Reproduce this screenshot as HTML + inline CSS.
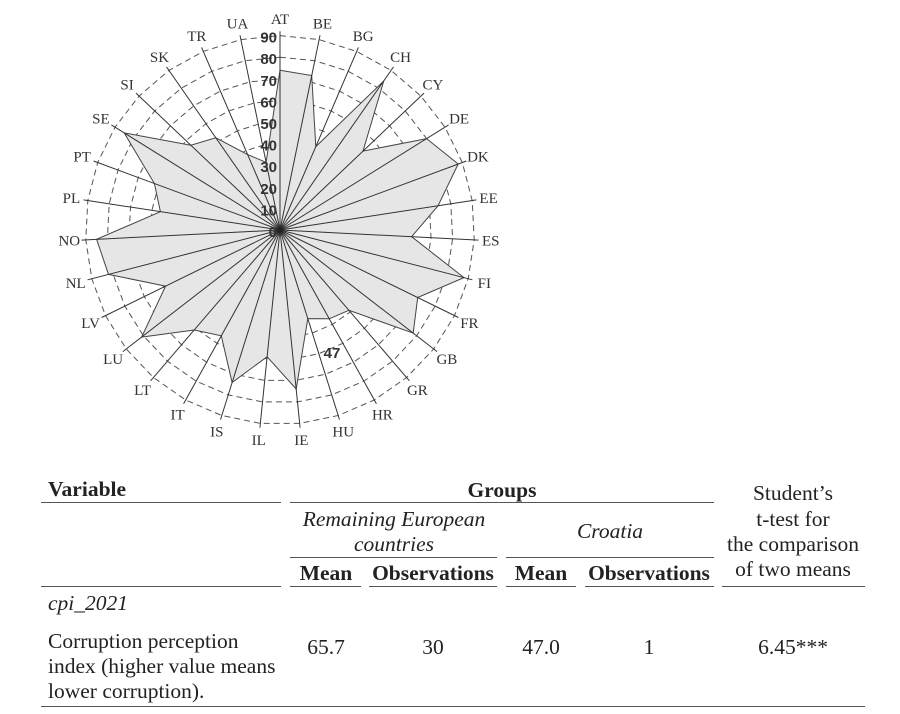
<!DOCTYPE html>
<html><head><meta charset="utf-8"><style>
body{margin:0;background:#fff;width:900px;height:714px;overflow:hidden;position:relative;font-family:"Liberation Serif",serif;color:#222}
.t{position:absolute;font-size:21.5px;white-space:nowrap;line-height:1}
.c{transform:translateX(-50%)}
.b{font-weight:bold}
.i{font-style:italic}
.l{position:absolute;height:1px;background:#555}
</style></head><body>
<svg id="s" width="900" height="470" style="position:absolute;left:0;top:0"></svg>
<script>
var names="AT BE BG CH CY DE DK EE ES FI FR GB GR HR HU IE IL IS IT LT LU LV NL NO PL PT SE SI SK TR UA".split(" ");
var vals=[74,73,42,84,53,80,88,74,61,88,71,78,49,47,43,74,59,74,56,61,81,59,82,85,56,62,85,57,52,38,32];
var cx=280,cy=230,k=2.16,n=31,h='';
function P(i,r){var a=i*2*Math.PI/n;return [cx+r*Math.sin(a),cy-r*Math.cos(a)];}
for(var g=10;g<=90;g+=10){var p=[];for(var i=0;i<n;i++){var q=P(i,g*k);p.push(q[0].toFixed(1)+','+q[1].toFixed(1));}
h+='<polygon points="'+p.join(' ')+'" fill="none" stroke="#555" stroke-width="1" stroke-dasharray="6,4"/>';}
var p=[];for(var i=0;i<n;i++){var q=P(i,vals[i]*k);p.push(q[0].toFixed(1)+','+q[1].toFixed(1));}
h+='<polygon points="'+p.join(' ')+'" fill="#e6e6e6" stroke="#444" stroke-width="1"/>';
for(var i=0;i<n;i++){var q=P(i,92*k);h+='<line x1="'+cx+'" y1="'+cy+'" x2="'+q[0].toFixed(1)+'" y2="'+q[1].toFixed(1)+'" stroke="#333" stroke-width="1"/>';
var t=P(i,211);h+='<text x="'+t[0].toFixed(1)+'" y="'+(t[1]+5).toFixed(1)+'" text-anchor="middle" font-family="Liberation Serif,serif" font-size="15" fill="#333">'+names[i]+'</text>';}
for(var g=0;g<=90;g+=10){h+='<text x="277" y="'+(cy-g*k+7).toFixed(1)+'" text-anchor="end" font-family="Liberation Sans,sans-serif" font-weight="bold" font-size="15" fill="#333">'+g+'</text>';}
h+='<text x="332" y="358" text-anchor="middle" font-family="Liberation Sans,sans-serif" font-weight="bold" font-size="15" fill="#333">47</text>';
h+='<circle cx="'+cx+'" cy="'+cy+'" r="3" fill="#222"/>';
document.getElementById('s').innerHTML=h;
</script>
<div class="t b" style="left:48px;top:479px">Variable</div>
<div class="t b c" style="left:502px;top:480px">Groups</div>
<div class="t c" style="left:793px;top:483px">Student’s</div>
<div class="t c" style="left:793px;top:509px">t-test for</div>
<div class="t c" style="left:793px;top:534px">the comparison</div>
<div class="t c" style="left:793px;top:559px">of two means</div>
<div class="t i c" style="left:394px;top:509px">Remaining European</div>
<div class="t i c" style="left:394px;top:534px">countries</div>
<div class="t i c" style="left:610px;top:521px">Croatia</div>
<div class="t b c" style="left:326px;top:563px">Mean</div>
<div class="t b c" style="left:433px;top:563px">Observations</div>
<div class="t b c" style="left:541px;top:563px">Mean</div>
<div class="t b c" style="left:649px;top:563px">Observations</div>
<div class="t i" style="left:48px;top:593px">cpi_2021</div>
<div class="t" style="left:48px;top:631px">Corruption perception</div>
<div class="t" style="left:48px;top:656px">index (higher value means</div>
<div class="t" style="left:48px;top:681px">lower corruption).</div>
<div class="t c" style="left:326px;top:637px">65.7</div>
<div class="t c" style="left:433px;top:637px">30</div>
<div class="t c" style="left:541px;top:637px">47.0</div>
<div class="t c" style="left:649px;top:637px">1</div>
<div class="t c" style="left:793px;top:637px">6.45***</div>
<div class="l" style="left:41px;width:240px;top:502px"></div>
<div class="l" style="left:290px;width:424px;top:502px"></div>
<div class="l" style="left:290px;width:207px;top:557px"></div>
<div class="l" style="left:506px;width:208px;top:557px"></div>
<div class="l" style="left:41px;width:240px;top:586px"></div>
<div class="l" style="left:290px;width:71px;top:586px"></div>
<div class="l" style="left:369px;width:128px;top:586px"></div>
<div class="l" style="left:506px;width:70px;top:586px"></div>
<div class="l" style="left:585px;width:129px;top:586px"></div>
<div class="l" style="left:722px;width:143px;top:586px"></div>
<div class="l" style="left:41px;width:824px;top:706px"></div>
</body></html>
